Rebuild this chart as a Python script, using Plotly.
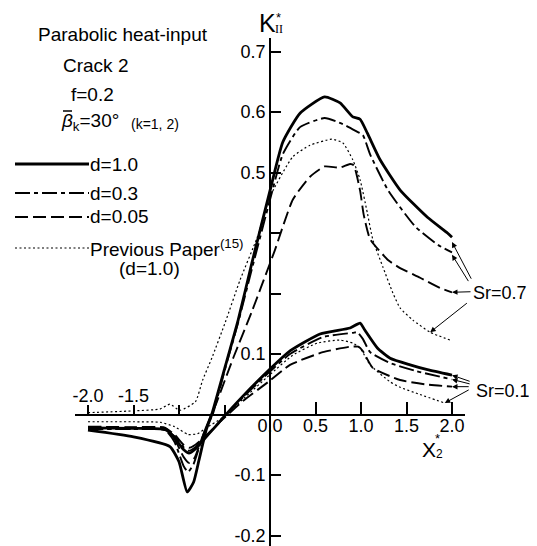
import plotly.graph_objects as go

W, H = 537, 546

# ---------------- data (plot-axis units) ----------------
# Sr = 0.7
S7_D10_X = [-2.0, -1.5, -1.1, -1.0, -0.91, -0.84, -0.78, -0.7, -0.64, -0.5, -0.35, -0.2, 0.0, 0.14, 0.33, 0.6, 0.77, 0.91, 0.99, 1.07, 1.21, 1.43, 1.73, 1.95, 2.0]
S7_D10_Y = [-0.026, -0.037, -0.053, -0.078, -0.128, -0.112, -0.075, -0.025, 0.0, 0.075, 0.156, 0.25, 0.37, 0.45, 0.498, 0.525, 0.515, 0.492, 0.488, 0.465, 0.421, 0.371, 0.326, 0.30, 0.293]

S7_D03_X = [-2.0, -1.5, -1.15, -1.05, -0.95, -0.9, -0.84, -0.77, -0.7, -0.63, -0.5, -0.35, -0.2, 0.0, 0.14, 0.33, 0.6, 0.8, 0.95, 1.02, 1.1, 1.3, 1.6, 1.85, 2.0]
S7_D03_Y = [-0.024, -0.024, -0.026, -0.045, -0.085, -0.095, -0.082, -0.05, -0.02, 0.0, 0.072, 0.152, 0.24, 0.355, 0.43, 0.475, 0.49, 0.48, 0.468, 0.462, 0.43, 0.37, 0.31, 0.28, 0.268]

S7_D005_X = [-2.0, -1.5, -1.15, -1.05, -0.95, -0.89, -0.83, -0.75, -0.66, -0.6, -0.4, -0.2, 0.0, 0.05, 0.25, 0.44, 0.6, 0.77, 0.88, 0.92, 0.99, 1.03, 1.1, 1.3, 1.43, 1.65, 1.87, 2.0]
S7_D005_Y = [-0.02, -0.021, -0.022, -0.04, -0.07, -0.08, -0.072, -0.04, -0.005, 0.015, 0.095, 0.17, 0.25, 0.27, 0.355, 0.393, 0.41, 0.408, 0.414, 0.412, 0.37, 0.33, 0.29, 0.255, 0.242, 0.226, 0.209, 0.202]

S7_PREV_X = [-2.0, -1.5, -1.21, -1.1, -0.99, -0.82, -0.74, -0.64, -0.49, -0.33, -0.14, 0.0, 0.25, 0.44, 0.68, 0.8, 0.91, 0.99, 1.07, 1.13, 1.24, 1.35, 1.43, 1.57, 1.76, 1.98]
S7_PREV_Y = [0.003, 0.006, 0.009, 0.017, 0.007, 0.021, 0.057, 0.093, 0.153, 0.222, 0.293, 0.36, 0.426, 0.445, 0.455, 0.449, 0.421, 0.388, 0.333, 0.289, 0.244, 0.201, 0.176, 0.156, 0.136, 0.123]

# Sr = 0.1
S1_D10_X = [-2.0, -1.5, -1.15, -1.05, -0.95, -0.89, -0.82, -0.72, -0.6, -0.52, -0.3, 0.0, 0.22, 0.55, 0.88, 0.99, 1.04, 1.18, 1.32, 1.54, 1.73, 2.0]
S1_D10_Y = [-0.022, -0.023, -0.025, -0.038, -0.058, -0.064, -0.057, -0.04, -0.02, -0.006, 0.03, 0.075, 0.105, 0.133, 0.143, 0.151, 0.14, 0.11, 0.093, 0.082, 0.074, 0.065]

S1_D03_X = [-2.0, -1.5, -1.15, -1.05, -0.95, -0.89, -0.82, -0.72, -0.6, -0.52, -0.3, 0.0, 0.22, 0.58, 0.91, 0.96, 1.02, 1.1, 1.32, 1.6, 2.0]
S1_D03_Y = [-0.023, -0.024, -0.025, -0.036, -0.054, -0.06, -0.054, -0.039, -0.02, -0.006, 0.028, 0.071, 0.1, 0.128, 0.135, 0.136, 0.125, 0.103, 0.085, 0.072, 0.058]

S1_D005_X = [-2.0, -1.5, -1.15, -1.05, -0.95, -0.89, -0.82, -0.72, -0.6, -0.52, -0.3, 0.0, 0.22, 0.58, 0.88, 0.97, 1.02, 1.13, 1.43, 1.7, 2.0]
S1_D005_Y = [-0.021, -0.022, -0.023, -0.033, -0.05, -0.055, -0.05, -0.037, -0.02, -0.008, 0.022, 0.056, 0.082, 0.103, 0.112, 0.112, 0.105, 0.077, 0.057, 0.05, 0.046]

S1_PREV_X = [-2.0, -1.5, -1.2, -1.05, -0.9, -0.8, -0.7, -0.52, -0.3, 0.0, 0.25, 0.52, 0.77, 0.91, 0.99, 1.1, 1.32, 1.43, 1.65, 1.92]
S1_PREV_Y = [-0.012, -0.012, -0.013, -0.02, -0.033, -0.032, -0.022, -0.005, 0.025, 0.066, 0.098, 0.118, 0.123, 0.118, 0.11, 0.082, 0.054, 0.045, 0.033, 0.019]

# tick labels
X_POS_TICKS = [0.0, 0.5, 1.0, 1.5, 2.0]
X_POS_LABELS = ["0.0", "0.5", "1.0", "1.5", "2.0"]
X_NEG_TICKS = [-2.0, -1.5, -1.0, -0.5]
X_NEG_LABELS = ["-2.0", "-1.5", "", ""]
Y_TICKS = [-0.2, -0.1, 0.1, 0.2, 0.3, 0.4, 0.5, 0.6]
Y_LABELS = ["-0.2", "-0.1", "0.1", "", "", "0.5", "0.6", "0.7"]

LEGEND_NAMES = ["d=1.0", "d=0.3", "d=0.05", "Previous Paper<sup>(15)</sup>"]

# ---------------- styling ----------------
FONT = "Liberation Sans, Arial, sans-serif"
STYLES = {
    "d10": dict(color="black", width=2.8, dash="solid"),
    "d03": dict(color="black", width=1.9, dash="15px,4px,4px,4px"),
    "d005": dict(color="black", width=1.9, dash="13px,5px"),
    "prev": dict(color="black", width=1.2, dash="2px,2.5px"),
}

# the page body adds an 8px margin; place everything in window pixels
OFF = 8.0


def pxp(x):
    return (x - OFF) / W


def pyp(y):
    return 1 - (y - OFF) / H


# pixel geometry of the axes (window pixels)
X0_PIX, X_SCALE = 270.0, 91.0
Y0_PIX, Y_SCALE = 414.5, 605.0
XR = [(75 - X0_PIX) / X_SCALE, (465 - X0_PIX) / X_SCALE]
YR = [(Y0_PIX - (H + OFF)) / Y_SCALE, (Y0_PIX - 38) / Y_SCALE]

fig = go.Figure()

series = [
    ("x", S7_D10_X, S7_D10_Y, "d10"),
    ("x", S7_D03_X, S7_D03_Y, "d03"),
    ("x", S7_D005_X, S7_D005_Y, "d005"),
    ("x", S7_PREV_X, S7_PREV_Y, "prev"),
    ("x2", S1_D10_X, S1_D10_Y, "d10"),
    ("x2", S1_D03_X, S1_D03_Y, "d03"),
    ("x2", S1_D005_X, S1_D005_Y, "d005"),
    ("x2", S1_PREV_X, S1_PREV_Y, "prev"),
]
for xa, xs, ys, st in series:
    fig.add_trace(go.Scatter(x=xs, y=ys, mode="lines", xaxis=xa, yaxis="y",
                             line=dict(**STYLES[st], shape="spline", smoothing=0.5),
                             showlegend=False, hoverinfo="skip"))

tickfont = dict(family=FONT, size=18, color="black")
xpos = pyp(Y0_PIX)

fig.update_layout(
    width=W, height=H,
    margin=dict(l=0, r=0, t=0, b=0),
    paper_bgcolor="white", plot_bgcolor="white",
    showlegend=False,
    xaxis=dict(domain=[pxp(75), pxp(465)], range=XR, anchor="free", position=xpos,
               side="bottom", tickmode="array", tickvals=X_POS_TICKS, ticktext=X_POS_LABELS,
               ticks="inside", ticklen=12, tickwidth=1.6, tickcolor="black",
               ticklabelstandoff=-5,
               showline=True, linecolor="black", linewidth=1.6,
               showgrid=False, zeroline=False, tickfont=tickfont, automargin=False),
    xaxis2=dict(overlaying="x", range=XR, anchor="free", position=xpos, side="top",
                tickmode="array", tickvals=X_NEG_TICKS, ticktext=X_NEG_LABELS,
                ticks="outside", ticklen=10, tickwidth=1.6, tickcolor="black",
                ticklabelstandoff=-5,
                showline=False, showgrid=False, zeroline=False, tickfont=tickfont,
                automargin=False),
    yaxis=dict(domain=[0, pyp(38)], range=YR, anchor="free", position=pxp(X0_PIX),
               tickmode="array", tickvals=Y_TICKS, ticktext=Y_LABELS,
               ticks="inside", ticklen=10, tickwidth=1.6, tickcolor="black",
               showline=True, linecolor="black", linewidth=1.6,
               showgrid=False, zeroline=False, tickfont=tickfont, automargin=False),
)

ann = []


def text(x, y, s, size=19, xanchor="left", family=FONT):
    ann.append(dict(x=pxp(x), y=pyp(y), xref="paper", yref="paper", text=s,
                    showarrow=False, xanchor=xanchor, yanchor="middle",
                    font=dict(family=family, size=size, color="black")))


text(36, 34, "Parabolic heat-input")
text(61, 66, "Crack 2")
text(69, 94, "f=0.2")
text(59, 122, "<i>β</i><sub>k</sub>=30°")
text(129, 124, "(k=1, 2)", size=14)

shapes = []
# bar over beta
shapes.append(dict(type="line", xref="paper", yref="paper",
                   x0=pxp(63), x1=pxp(72), y0=pyp(111), y1=pyp(111),
                   line=dict(color="black", width=1.5)))

# legend keys
legend_rows = [(164, "d10"), (193, "d03"), (217, "d005"), (248, "prev")]
for (yy, st), name in zip(legend_rows, LEGEND_NAMES):
    s = STYLES[st]
    shapes.append(dict(type="line", xref="paper", yref="paper",
                       x0=pxp(15), x1=pxp(89), y0=pyp(yy), y1=pyp(yy),
                       line=dict(color="black", width=s["width"], dash=s["dash"])))
    text(88, yy, name)
text(117, 268, "(d=1.0)")

# axis titles
text(257, 23, "K", size=25)
text(273, 29, "II", size=12, family="Liberation Serif, Times New Roman, serif")
text(274, 17, "*", size=13)
text(420, 449, "X", size=21)
text(434, 454, "2", size=12)
text(433, 438, "*", size=13)

# Sr labels and arrows
text(471, 293, "Sr=0.7", size=18)
text(474, 391, "Sr=0.1", size=18)

arrows = [
    ((S7_D10_X[-1], S7_D10_Y[-1] - 0.008), (2.22, 0.222)),
    ((S7_D03_X[-1], S7_D03_Y[-1] - 0.004), (2.19, 0.218)),
    ((S7_D005_X[-1], S7_D005_Y[-1]), (2.22, 0.203)),
    ((S7_PREV_X[-2], S7_PREV_Y[-2]), (2.18, 0.186)),
    ((S1_D10_X[-1], S1_D10_Y[-1]), (2.21, 0.054)),
    ((S1_D03_X[-1], S1_D03_Y[-1]), (2.21, 0.050)),
    ((S1_D005_X[-1], S1_D005_Y[-1]), (2.20, 0.046)),
    ((S1_PREV_X[-1], S1_PREV_Y[-1]), (2.20, 0.042)),
]
for (hx, hy), (tx, ty) in arrows:
    ann.append(dict(x=hx, y=hy, xref="x", yref="y", ax=tx, ay=ty, axref="x", ayref="y",
                    text="", showarrow=True, arrowhead=2, arrowsize=1.1, arrowwidth=1,
                    arrowcolor="black", standoff=0, startstandoff=0))

fig.update_layout(annotations=ann, shapes=shapes)

fig.write_html("out.html")
